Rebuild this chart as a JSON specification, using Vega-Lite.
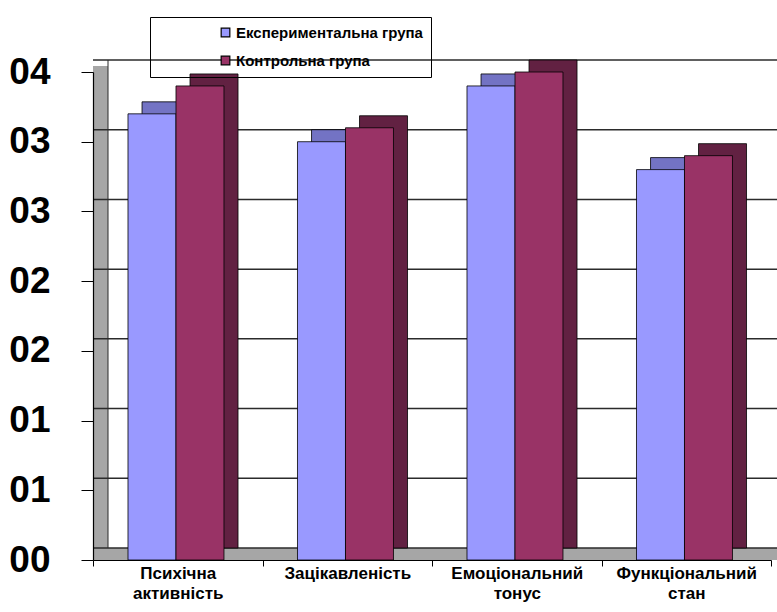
{
  "$schema": "https://vega.github.io/schema/vega-lite/v6.json",
  "width": 678,
  "height": 488,
  "autosize": {"type": "none"},
  "padding": {"left": 93, "top": 72, "right": 6, "bottom": 52},
  "background": "white",
  "config": {"view": {"stroke": null}, "font": "Liberation Sans"},
  "datasets": {
    "bars": [
      {"cat": "Психічна активність", "group": "Експериментальна група", "value": 3.2},
      {"cat": "Психічна активність", "group": "Контрольна група", "value": 3.4},
      {"cat": "Зацікавленість", "group": "Експериментальна група", "value": 3.0},
      {"cat": "Зацікавленість", "group": "Контрольна група", "value": 3.1},
      {"cat": "Емоціональний тонус", "group": "Експериментальна група", "value": 3.4},
      {"cat": "Емоціональний тонус", "group": "Контрольна група", "value": 3.5},
      {"cat": "Функціональний стан", "group": "Експериментальна група", "value": 2.8},
      {"cat": "Функціональний стан", "group": "Контрольна група", "value": 2.9}
    ],
    "grid": [{"v": 0}, {"v": 0.5}, {"v": 1}, {"v": 1.5}, {"v": 2}, {"v": 2.5}, {"v": 3}, {"v": 3.5}]
  },
  "data": {"name": "bars"},
  "resolve": {"scale": {"color": "independent", "xOffset": "independent"}},
  "layer": [
    {
      "data": {"values": [{"part": "floor"}]},
      "mark": {"type": "rule", "strokeWidth": 12, "color": "#a6a6a6", "xOffset": 7.5, "x2Offset": 7.5, "yOffset": -6, "y2Offset": -6},
      "encoding": {"y": {"datum": 0, "type": "quantitative"}}
    },
    {
      "data": {"values": [{"part": "side"}]},
      "mark": {"type": "rule", "strokeWidth": 15, "color": "#a6a6a6", "xOffset": 7.5, "x2Offset": 7.5, "yOffset": -6, "y2Offset": -6},
      "encoding": {
        "x": {"datum": "Психічна активність", "type": "nominal", "bandPosition": 0},
        "y": {"datum": 0, "type": "quantitative"},
        "y2": {"datum": 3.5}
      }
    },
    {
      "data": {"name": "grid"},
      "mark": {"type": "rule", "color": "#2b2b2b", "strokeWidth": 1.5, "xOffset": 15, "x2Offset": 15, "yOffset": -12, "y2Offset": -12},
      "encoding": {"y": {"field": "v", "type": "quantitative", "title": null}}
    },
    {
      "data": {"values": [{"part": "backedge"}]},
      "mark": {"type": "rule", "color": "#2b2b2b", "strokeWidth": 1, "xOffset": 15, "x2Offset": 15, "yOffset": -12, "y2Offset": -12},
      "encoding": {
        "x": {"datum": "Психічна активність", "type": "nominal", "bandPosition": 0},
        "y": {"datum": 0, "type": "quantitative"},
        "y2": {"datum": 3.5}
      }
    },
    {
      "mark": {"type": "bar", "stroke": "black", "strokeWidth": 0.8, "yOffset": -12, "y2Offset": -12},
      "encoding": {
        "x": {"field": "cat", "type": "nominal", "title": null},
        "xOffset": {"field": "group", "type": "nominal", "sort": ["Експериментальна група", "Контрольна група"], "scale": {"paddingInner": 0, "paddingOuter": 0.766, "align": 0.667}},
        "y": {"field": "value", "type": "quantitative", "title": null},
        "color": {"field": "group", "type": "nominal", "legend": null, "scale": {"domain": ["Експериментальна група", "Контрольна група"], "range": ["#7373c4", "#622142"]}}
      }
    },
    {
      "mark": {"type": "bar", "stroke": "black", "strokeWidth": 0.8},
      "encoding": {
        "x": {
          "field": "cat", "type": "nominal", "title": null,
          "scale": {"domain": ["Психічна активність", "Зацікавленість", "Емоціональний тонус", "Функціональний стан"], "paddingInner": 0, "paddingOuter": 0},
          "axis": {"title": null, "labelAngle": 0, "labelAlign": "center", "labelExpr": "split(datum.label, ' ')", "labelFont": "Liberation Sans", "labelFontSize": 17, "labelFontWeight": "bold", "labelColor": "black", "labelLineHeight": 20, "labelPadding": 7, "tickBand": "extent", "tickSize": 6, "tickColor": "black", "domainColor": "black", "zindex": 1, "labelLimit": 300}
        },
        "xOffset": {"field": "group", "type": "nominal", "sort": ["Експериментальна група", "Контрольна група"], "scale": {"paddingInner": 0, "paddingOuter": 0.766, "align": 0.476}},
        "y": {
          "field": "value", "type": "quantitative", "title": null,
          "scale": {"domain": [0, 3.5], "nice": false, "zero": true},
          "axis": {"title": null, "values": [0, 0.5, 1, 1.5, 2, 2.5, 3, 3.5], "labelExpr": "'0' + round(datum.value)", "labelFont": "Liberation Sans", "labelFontSize": 37, "labelFontWeight": "bold", "labelColor": "black", "labelPadding": 31, "tickSize": 12, "tickColor": "black", "domainColor": "black", "domainWidth": 1.2, "grid": false, "zindex": 1}
        },
        "color": {
          "field": "group", "type": "nominal",
          "scale": {"domain": ["Експериментальна група", "Контрольна група"], "range": ["#9999ff", "#993366"]},
          "legend": {"title": null, "orient": "none", "legendX": 57, "legendY": -55, "direction": "vertical", "symbolType": "square", "symbolSize": 75, "symbolStrokeColor": "black", "symbolStrokeWidth": 1.2, "labelFont": "Liberation Sans", "labelFontSize": 15, "labelFontWeight": "bold", "labelColor": "black", "strokeColor": "black", "padding": 8, "rowPadding": 12, "symbolOffset": 60, "labelOffset": 3, "labelLimit": 400}
        }
      }
    }
  ]
}
